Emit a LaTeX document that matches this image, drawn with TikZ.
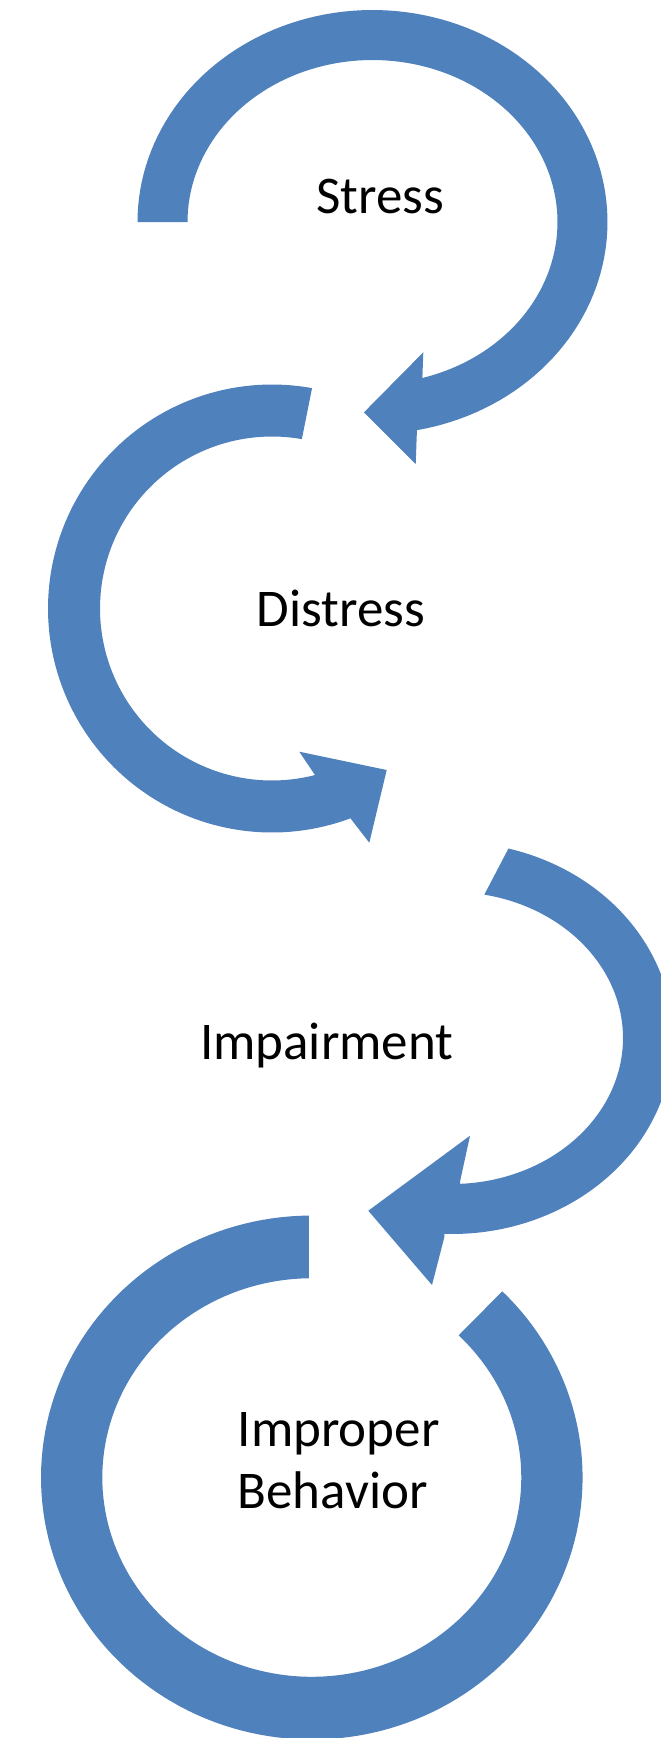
\documentclass[tikz,border=0pt]{standalone}
\usepackage{fontspec}
\setmainfont{Carlito}
\definecolor{smartblue}{RGB}{79,129,189}
\begin{document}
\begin{tikzpicture}[x=1pt,y=-1pt,
  ring/.style={fill=smartblue,draw=none},
  steplabel/.style={inner sep=0pt,text=black,font=\fontsize{53}{62.5}\selectfont}]
\clip (0,0) rectangle (661,1738);
\fill[white] (0,0) rectangle (661,1738);

% first arrow: clockwise from the left, head pointing back to the left
\fill[ring] plot[domain=180:439.1,samples=120] ({372.5+235*cos(\x)},{222+212*sin(\x)})
  -- (415.7,464) -- (364,412.3) -- (423.3,352.3) -- (422.3,380)
  -- plot[domain=434.5:180,samples=120] ({372.5+185*cos(\x)},{222+162*sin(\x)}) -- cycle;

% second arrow: anticlockwise, head pointing right
\fill[ring] plot[domain=280.3:69.5,samples=120] ({272+224*cos(\x)},{608.5+224*sin(\x)})
  -- (369.3,842.7) -- (386.7,770) -- (299.3,751.7) -- (315,775)
  -- plot[domain=75.5:280,samples=120] ({272+172*cos(\x)},{608.5+172*sin(\x)}) -- cycle;

% third arrow: clockwise on the right, head pointing left
\fill[ring] plot[domain=-75.2:92,samples=120] ({452+221*cos(\x)},{1038+196*sin(\x)})
  -- (444.3,1237.3) -- (432,1285) -- (368.3,1210.7) -- (470,1135.7) -- (460,1181.7)
  -- plot[domain=87.3:-79.1,samples=120] ({452+171*cos(\x)},{1038+146*sin(\x)}) -- cycle;

% closing ring, no head
\fill[ring] plot[domain=269.4:-45.3,samples=160] ({311.8+270.8*cos(\x)},{1477.5+262*sin(\x)})
  -- plot[domain=-45.5:269.2,samples=160] ({311.8+209.5*cos(\x)},{1477.5+199.3*sin(\x)}) -- cycle;

\node[steplabel,anchor=base] (stress) at (380,213.3) {Stress};
\node[steplabel,anchor=base] (distress) at (340.8,626.7) {Distress};
\node[steplabel,anchor=base] (impairment) at (326.7,1059.3) {Impairment};
% base of a two-line node is the baseline of its last line
\node[steplabel,anchor=base west,align=left] (improper) at (237.5,1508.9) {Improper\\Behavior};
\end{tikzpicture}
\end{document}
